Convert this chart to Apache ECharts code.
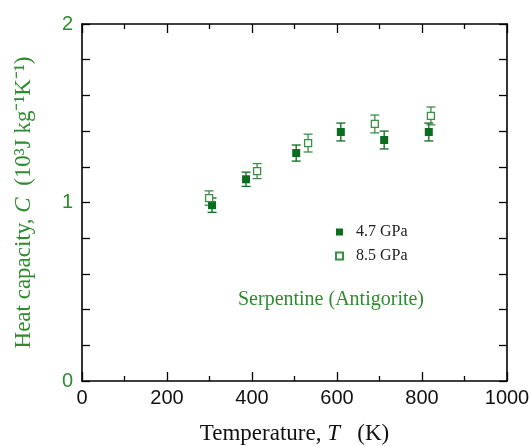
<!DOCTYPE html>
<html>
<head>
<meta charset="utf-8">
<script src="https://cdn.jsdelivr.net/npm/echarts@6/dist/echarts.min.js"></script>
<style>
  html, body { margin: 0; padding: 0; background: #fff; }
  #chart { width: 531px; height: 446px; }
</style>
</head>
<body>
<div id="chart"></div>
<script>
// 4.7 GPa (filled squares)
const tempLow = [306, 386, 504, 609, 711, 816];
const capLow = [0.985, 1.13, 1.277, 1.395, 1.35, 1.395];
const errLow = [0.04, 0.04, 0.045, 0.05, 0.05, 0.05];

// 8.5 GPa (open squares)
const tempHigh = [299, 412, 532, 689, 821];
const capHigh = [1.025, 1.176, 1.333, 1.44, 1.485];
const errHigh = [0.04, 0.042, 0.05, 0.05, 0.05];

const xTicks = [0, 200, 400, 600, 800, 1000];
const yTicks = [0, 1, 2];

const darkGreen = '#0b6b1f';
const lightGreen = '#3a8f45';
const textGreen = '#2e8b2e';

function pts(t, c) {
  return t.map((v, i) => [v, c[i]]);
}
function errData(t, c, e) {
  return t.map((v, i) => [v, c[i] - e[i], c[i] + e[i]]);
}

function errorBars(color) {
  return function (params, api) {
    const x = api.value(0);
    const lo = api.coord([x, api.value(1)]);
    const hi = api.coord([x, api.value(2)]);
    const w = 4.5;
    const st = { stroke: color, lineWidth: 1.3 };
    return {
      type: 'group',
      children: [
        { type: 'line', shape: { x1: lo[0], y1: lo[1], x2: hi[0], y2: hi[1] }, style: st },
        { type: 'line', shape: { x1: lo[0] - w, y1: lo[1], x2: lo[0] + w, y2: lo[1] }, style: st },
        { type: 'line', shape: { x1: hi[0] - w, y1: hi[1], x2: hi[0] + w, y2: hi[1] }, style: st }
      ]
    };
  };
}

const chart = echarts.init(document.getElementById('chart'));

const axisLine = { show: true, onZero: false, lineStyle: { color: '#000', width: 1.6 } };
const tickStyle = { color: '#000', width: 1.3 };

chart.setOption({
  animation: false,
  backgroundColor: '#fff',
  grid: { left: 82, right: 24, top: 24, bottom: 65, outerBoundsMode: 'none', containLabel: false },
  title: {
    text: 'Serpentine (Antigorite)',
    left: 326, top: 285, textAlign: 'center',
    textStyle: { fontFamily: 'Liberation Serif', fontSize: 20, fontWeight: 'normal', color: textGreen }
  },
  legend: {
    left: 330, top: 219, orient: 'vertical', itemGap: 8,
    itemWidth: 7, itemHeight: 7,
    textStyle: { fontFamily: 'Liberation Serif', fontSize: 16, color: '#222', padding: [0, 0, 0, 8] },
    data: ['4.7 GPa', '8.5 GPa']
  },
  xAxis: [{
    type: 'value', min: 0, max: 1000, interval: 200,
    axisLine: axisLine,
    axisTick: { inside: true, length: 9, lineStyle: tickStyle },
    minorTick: { show: true, splitNumber: 2, length: 5, lineStyle: tickStyle },
    splitLine: { show: false },
    axisLabel: {
      margin: 7, fontFamily: 'Liberation Sans', fontSize: 20, color: '#111',
      formatter: v => xTicks.includes(v) ? String(v) : ''
    },
    name: 'Temperature, {i|T}   (K)', nameLocation: 'middle', nameGap: 41,
    nameTextStyle: {
      fontFamily: 'Liberation Serif', fontSize: 23, color: '#111',
      rich: { i: { fontFamily: 'Liberation Serif', fontSize: 23, fontStyle: 'italic', color: '#111' } }
    }
  }, {
    type: 'value', position: 'top', min: 0, max: 1000, interval: 200,
    axisLine: axisLine,
    axisTick: { inside: true, length: 9, lineStyle: tickStyle },
    minorTick: { show: true, splitNumber: 2, length: 5, lineStyle: tickStyle },
    splitLine: { show: false }, axisLabel: { show: false }
  }],
  yAxis: [{
    type: 'value', min: 0, max: 2, interval: 1,
    axisLine: axisLine,
    axisTick: { inside: true, length: 8, lineStyle: tickStyle },
    minorTick: { show: true, splitNumber: 5, length: 8, lineStyle: tickStyle },
    splitLine: { show: false },
    axisLabel: {
      margin: 9, fontFamily: 'Liberation Sans', fontSize: 20, color: textGreen,
      formatter: v => yTicks.includes(v) ? String(v) : ''
    },
    name: 'Heat capacity, {i|C}  (10³J kg⁻¹K⁻¹)', nameLocation: 'middle', nameGap: 47,
    nameTextStyle: {
      fontFamily: 'Liberation Serif', fontSize: 23, color: textGreen,
      rich: { i: { fontFamily: 'Liberation Serif', fontSize: 23, fontStyle: 'italic', color: textGreen } }
    }
  }, {
    type: 'value', position: 'right', min: 0, max: 2, interval: 1,
    axisLine: axisLine,
    axisTick: { inside: true, length: 8, lineStyle: tickStyle },
    minorTick: { show: true, splitNumber: 5, length: 8, lineStyle: tickStyle },
    splitLine: { show: false }, axisLabel: { show: false }
  }],
  series: [{
    type: 'custom', name: 'err47', renderItem: errorBars(darkGreen),
    data: errData(tempLow, capLow, errLow), encode: { x: 0, y: [1, 2] }, z: 2
  }, {
    type: 'custom', name: 'err85', renderItem: errorBars(lightGreen),
    data: errData(tempHigh, capHigh, errHigh), encode: { x: 0, y: [1, 2] }, z: 2
  }, {
    type: 'scatter', name: '4.7 GPa', symbol: 'rect', symbolSize: 8,
    itemStyle: { color: darkGreen, opacity: 1 },
    data: pts(tempLow, capLow), z: 3
  }, {
    type: 'scatter', name: '8.5 GPa', symbol: 'rect', symbolSize: 7,
    itemStyle: { color: '#fff', borderColor: lightGreen, borderWidth: 1.3, opacity: 1 },
    data: pts(tempHigh, capHigh), z: 3
  }]
});
</script>
</body>
</html>
